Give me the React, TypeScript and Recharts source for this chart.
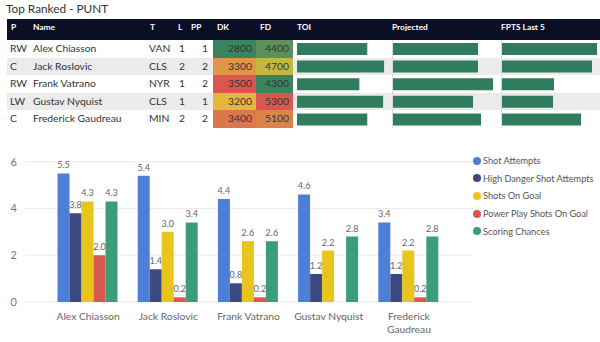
import React from 'react';
import {
  BarChart,
  Bar,
  XAxis,
  YAxis,
  CartesianGrid,
  Legend,
  LabelList,
} from 'recharts';

const players = ['Alex Chiasson', 'Jack Roslovic', 'Frank Vatrano', 'Gustav Nyquist', 'Frederick Gaudreau'];
const positions = ['RW', 'C', 'RW', 'LW', 'C'];
const teams = ['VAN', 'CLS', 'NYR', 'CLS', 'MIN'];
const lineNums = [1, 2, 1, 1, 2];
const ppUnits = [1, 2, 2, 1, 2];
const dkSalary = [2800, 3300, 3500, 3200, 3400];
const fdSalary = [4400, 4700, 4300, 5300, 5100];
const toi = [14.2, 17.6, 12.6, 17.4, 14.2];
const projected = [8.5, 8.5, 10.0, 8.0, 8.8];
const fptsLast5 = [9.5, 9.0, 5.2, 5.1, 7.9];

const shotAttempts = [5.5, 5.4, 4.4, 4.6, 3.4];
const highDanger = [3.8, 1.4, 0.8, 1.2, 1.2];
const shotsOnGoal = [4.3, 3.0, 2.6, 2.2, 2.2];
const ppShotsOnGoal = [2.0, 0.2, 0.2, 0.0, 0.2];
const scoringChances = [4.3, 3.4, 2.6, 2.8, 2.8];
const yTicks = [0, 2, 4, 6];

const series = [
  { key: 'sa', name: 'Shot Attempts', color: '#4d7fd8' },
  { key: 'hd', name: 'High Danger Shot Attempts', color: '#3c4a80' },
  { key: 'sog', name: 'Shots On Goal', color: '#e8c51c' },
  { key: 'pp', name: 'Power Play Shots On Goal', color: '#d9574f' },
  { key: 'sc', name: 'Scoring Chances', color: '#3a9e79' },
];

const rows = players.map((name, i) => ({
  name,
  pos: positions[i],
  team: teams[i],
  line: lineNums[i],
  pp: ppUnits[i],
  dk: dkSalary[i],
  fd: fdSalary[i],
  toi: toi[i],
  proj: projected[i],
  last5: fptsLast5[i],
}));

const chartData = players.map((name, i) => ({
  name,
  sa: shotAttempts[i],
  hd: highDanger[i],
  sog: shotsOnGoal[i],
  pp: ppShotsOnGoal[i],
  sc: scoringChances[i],
}));

const FONT = 'Lato, "Open Sans", sans-serif';
const ROW_H = 17.6;
const TABLE_TOP = 40;

// green -> yellow -> red, like the conditional formatting
const mix = (a: number[], b: number[], t: number) =>
  `rgb(${a.map((v, i) => Math.round(v + (b[i] - v) * t)).join(',')})`;
const scaleColor = (v: number, list: number[]) => {
  const min = Math.min(...list);
  const max = Math.max(...list);
  const t = (v - min) / (max - min);
  const green = [58, 133, 96];
  const yellow = [230, 197, 60];
  const red = [217, 87, 80];
  return t < 0.5 ? mix(green, yellow, t * 2) : mix(yellow, red, (t - 0.5) * 2);
};

const cell = (left: number, text: React.ReactNode, extra: React.CSSProperties = {}) => (
  <span style={{ position: 'absolute', left, top: 0, lineHeight: `${ROW_H}px`, whiteSpace: 'nowrap', ...extra }}>
    {text}
  </span>
);

const DataBars = ({ left, width, dataKey, max }: { left: number; width: number; dataKey: string; max: number }) => (
  <div style={{ position: 'absolute', left, top: TABLE_TOP }}>
    <BarChart
      layout="vertical"
      width={width}
      height={ROW_H * rows.length}
      data={rows}
      margin={{ top: 0, right: 0, bottom: 0, left: 0 }}
    >
      <XAxis type="number" hide domain={[0, max]} />
      <YAxis type="category" dataKey="name" hide />
      <Bar dataKey={dataKey} fill="#2f7d5e" barSize={12} isAnimationActive={false} />
    </BarChart>
  </div>
);

// long names wrap onto two lines like the original axis
const CategoryTick = (props: any) => {
  const { x, y, payload } = props;
  const name: string = payload.value;
  const lines = name.length > 15 ? name.split(' ') : [name];
  return (
    <text x={x} y={y + 10} textAnchor="middle" fill="#666" fontSize={10.3} fontFamily={FONT}>
      {lines.map((ln, i) => (
        <tspan key={ln} x={x} dy={i === 0 ? 0 : 13}>
          {ln}
        </tspan>
      ))}
    </text>
  );
};

const LegendList = () => (
  <div style={{ fontFamily: FONT, fontSize: 9.2, color: '#555' }}>
    {series.map((s) => (
      <div key={s.key} style={{ height: 17.6, display: 'flex', alignItems: 'center', whiteSpace: 'nowrap' }}>
        <span
          style={{ width: 8, height: 8, borderRadius: 4, background: s.color, display: 'inline-block', marginRight: 2 }}
        />
        {s.name}
      </div>
    ))}
  </div>
);

export default function App() {
  const headers: [string, number][] = [
    ['P', 11],
    ['Name', 33],
    ['T', 150],
    ['L', 178],
    ['PP', 191],
    ['DK', 217],
    ['FD', 260],
    ['TOI', 297],
    ['Projected', 392],
    ['FPTS Last 5', 501],
  ];

  return (
    <div
      style={{
        position: 'absolute',
        left: 0,
        top: 0,
        width: 600,
        height: 342,
        background: '#fff',
        overflow: 'hidden',
        fontFamily: FONT,
      }}
    >
      <div style={{ position: 'absolute', left: 6, top: 0, fontSize: 11.8, color: '#333', lineHeight: '18px' }}>
        Top Ranked - PUNT
      </div>

      {/* table header */}
      <div style={{ position: 'absolute', left: 7, top: 19, width: 593, height: 21, background: '#0b0f26' }} />
      {headers.map(([h, x]) => (
        <span
          key={h}
          style={{
            position: 'absolute',
            left: x,
            top: 19,
            lineHeight: '16px',
            fontSize: 8.4,
            fontWeight: 700,
            color: '#fff',
            whiteSpace: 'nowrap',
          }}
        >
          {h}
        </span>
      ))}

      {/* table rows */}
      {rows.map((r, i) => (
        <div
          key={r.name}
          style={{
            position: 'absolute',
            left: 7,
            top: TABLE_TOP + i * ROW_H,
            width: 593,
            height: ROW_H,
            background: i % 2 === 1 ? '#ebebeb' : '#fff',
            fontSize: 10.3,
            color: '#333',
          }}
        >
          {cell(3, r.pos)}
          {cell(26, r.name)}
          {cell(142, r.team)}
          {cell(172, r.line)}
          {cell(0, r.pp, { left: undefined, right: 593 - 201 })}
          <div style={{ position: 'absolute', left: 206, top: 0, width: 43, height: ROW_H, background: scaleColor(r.dk, dkSalary) }} />
          <div style={{ position: 'absolute', left: 249, top: 0, width: 37, height: ROW_H, background: scaleColor(r.fd, fdSalary) }} />
          {cell(0, r.dk, { left: undefined, right: 593 - 245 })}
          {cell(0, r.fd, { left: undefined, right: 593 - 282 })}
        </div>
      ))}
      <div style={{ position: 'absolute', left: 392, top: TABLE_TOP, width: 1, height: ROW_H * 5, background: '#dcdcdc' }} />
      <div style={{ position: 'absolute', left: 501, top: TABLE_TOP, width: 1, height: ROW_H * 5, background: '#dcdcdc' }} />

      <DataBars left={297} width={96} dataKey="toi" max={19.4} />
      <DataBars left={393} width={108} dataKey="proj" max={10.8} />
      <DataBars left={502} width={98} dataKey="last5" max={9.8} />

      {/* stats chart */}
      <div style={{ position: 'absolute', left: 0, top: 150 }}>
        <BarChart
          width={600}
          height={192}
          data={chartData}
          margin={{ top: 11.7, right: 0, bottom: 0, left: 0 }}
          barCategoryGap={9.5}
          barGap={0}
        >
          <CartesianGrid vertical={false} stroke="#ebebeb" />
          <XAxis
            dataKey="name"
            axisLine={false}
            tickLine={false}
            interval={0}
            height={40}
            padding={{ left: 23, right: 24 }}
            tick={<CategoryTick />}
          />
          <YAxis
            width={25}
            domain={[0, 6]}
            ticks={yTicks}
            axisLine={false}
            tickLine={false}
            tick={{ fontSize: 11, fill: '#777', fontFamily: FONT }}
          />
          <Legend
            layout="vertical"
            align="right"
            verticalAlign="top"
            wrapperStyle={{ left: 473, top: 2, width: 127 }}
            content={<LegendList />}
          />
          {series.map((s) => (
            <Bar key={s.key} dataKey={s.key} name={s.name} fill={s.color} isAnimationActive={false}>
              <LabelList
                dataKey={s.key}
                position="top"
                offset={5}
                formatter={(v: any) => Number(v).toFixed(1)}
                style={{ fontSize: 9, fill: '#666', fontFamily: FONT }}
              />
            </Bar>
          ))}
        </BarChart>
      </div>
    </div>
  );
}
